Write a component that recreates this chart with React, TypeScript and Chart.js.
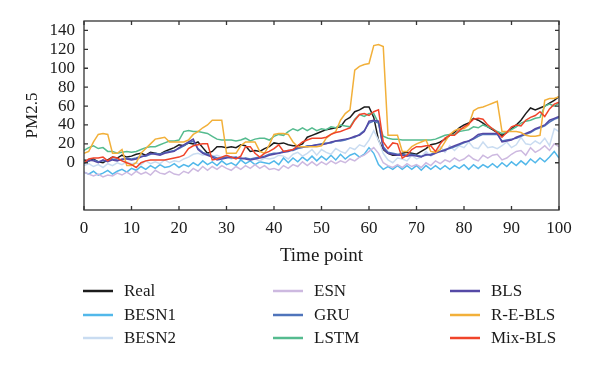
import React, { useEffect, useRef } from "react";
import { Chart, registerables } from "chart.js";

Chart.register(...registerables);

const FONT = "'Liberation Serif', 'DejaVu Serif', serif";

const timePoints = [
  0, 1, 2, 3, 4, 5, 6, 7, 8, 9, 10, 11, 12, 13, 14, 15, 16, 17, 18, 19,
  20, 21, 22, 23, 24, 25, 26, 27, 28, 29, 30, 31, 32, 33, 34, 35, 36, 37, 38, 39,
  40, 41, 42, 43, 44, 45, 46, 47, 48, 49, 50, 51, 52, 53, 54, 55, 56, 57, 58, 59,
  60, 61, 62, 63, 64, 65, 66, 67, 68, 69, 70, 71, 72, 73, 74, 75, 76, 77, 78, 79,
  80, 81, 82, 83, 84, 85, 86, 87, 88, 89, 90, 91, 92, 93, 94, 95, 96, 97, 98, 99, 100,
];
const xTicks = [0, 10, 20, 30, 40, 50, 60, 70, 80, 90, 100];
const yTicks = [0, 20, 40, 60, 80, 100, 120, 140];

const real = [
  3, 2, 4, 1, 0, 3, 6, 5, 8, 6,
  7, 9, 10, 8, 11, 10, 9, 12, 14, 16,
  19, 18, 21, 20, 22, 16, 10, 12, 17, 17,
  16, 17, 16, 19, 18, 12, 13, 12, 15, 17,
  21, 20, 21, 19, 18, 18, 20, 27, 29, 31,
  33, 35, 36, 37, 38, 45, 48, 54, 56, 59,
  59, 48, 24, 14, 10, 8, 8, 10, 11, 10,
  9, 12, 15, 19, 20, 22, 25, 29, 32, 37,
  40, 42, 47, 45, 42, 38, 35, 32, 29, 32,
  36, 40, 45, 52, 58, 56, 58, 60, 63, 66, 70,
];
const besn1 = [
  -10, -12, -9, -13, -11, -8, -12, -9, -7, -10,
  -6, -8, -4, -7, -3, -6, -2, -5, -4, -1,
  -5, -2, -4, 0, -3, 2, -2, 1, -3, 2,
  -2, 0, -3, 3, -1, 2, -2, 1, 0, -1,
  2, -2, 5, 0, 5, 1, 6, 2, 7, 2,
  7, 3, 8, 3, 9, 4, 8, 10, 6, 9,
  16, 10, -2, -7, -4, -7, -3, -7, -3, -7,
  -3, -8, -3, -7, -3, -7, -3, -7, -3, -6,
  -2, -7, -2, -6, -2, -5, -1, -5, 0, -4,
  1, -3, 2, -2, 4, 0, 5, 1, 6, 12, 5,
];
const besn2 = [
  -3, -1, -4, -2, -5, -1, -3, 0, -2, 1,
  -1, 0, -2, 2, -1, 1, -1, 3, 0, 2,
  1, 4, 6, 9, 10, 8, 9, 7, 8, 6,
  7, 4, 6, 4, 5, 3, 4, 2, 5, 4,
  5, 8, 7, 4, 9, 11, 7, 10, 14, 8,
  14, 11, 9, 15, 12, 10, 16, 14, 19, 17,
  24, 34, 24, 10, 3, 0, 5, 4, 2, 8,
  4, 6, 12, 7, 10, 17, 11, 18, 13, 18,
  16, 22, 16, 15, 22, 16, 17, 15, 18, 22,
  16, 19, 27, 20, 19, 23, 20, 26, 18, 36, 33,
];
const esn = [
  -10, -12, -14, -12, -15, -13, -14, -11, -13, -10,
  -13, -9, -12, -10, -13, -8, -11, -12, -9, -12,
  -13, -9, -11, -6, -9, -4, -8, -4, -7, -3,
  -6, -8, -4, -7, -3, -6, -2, -6, -3, -7,
  -6, -8, -3, -6, -2, -4, 1, -3, 1, -3,
  1, -2, 2, -1, 2, 0, 4, 2, 6, 8,
  12, 16, 10, 0, -3, -5, -2, -5, -1, -4,
  -2, -5, 0, -3, 2, -1, 3, 1, 5, 2,
  4, 8, 4, 2, 8, 5, 8, 9, 3, 5,
  9, 12, 13, 8, 16, 11, 14, 18, 13, 20, 17,
];
const gru = [
  0, 2, 3, 1, 2, 2, 4, 3, 3, 5,
  4, 5, 7, 7, 9, 10, 9, 11, 12, 13,
  15, 18, 21, 23, 15, 11, 9, 7, 5, 5,
  6, 5, 6, 4, 5, 4, 5, 6, 7, 9,
  10, 10, 12, 13, 13, 15, 16, 18, 18, 19,
  20, 21, 21, 23, 23, 24, 26, 27, 30, 34,
  42, 44, 42, 17, 11, 10, 9, 9, 8, 9,
  8, 7, 8, 9, 11, 12, 14, 15, 17, 19,
  21, 23, 25, 28, 30, 30, 30, 30, 23, 24,
  25, 26, 28, 30, 32, 35, 37, 39, 43, 46, 48,
];
const lstm = [
  13, 16, 18, 15, 16, 12, 12, 10, 11, 12,
  11, 12, 14, 16, 17, 17, 19, 21, 23, 23,
  24, 33, 34, 33, 33, 32, 31, 28, 25, 24,
  24, 24, 23, 24, 26, 23, 25, 26, 26, 24,
  28, 30, 29, 33, 36, 34, 37, 34, 37, 34,
  36, 35, 38, 37, 40, 39, 38, 46, 51, 49,
  52, 52, 42, 28, 26, 25, 25, 24, 24, 24,
  24, 24, 24, 24, 25, 27, 29, 30, 30, 33,
  34, 35, 38, 37, 40, 38, 36, 33, 31, 32,
  35, 38, 42, 44, 45, 47, 48, 60, 62, 60, 63,
];
const bls = [
  -1, 3, 2, 0, 3, 1, 3, 2, 4, 4,
  3, 4, 6, 8, 10, 9, 8, 10, 11, 12,
  16, 19, 22, 25, 14, 10, 8, 6, 3, 4,
  5, 6, 5, 5, 4, 3, 4, 5, 6, 8,
  9, 10, 11, 12, 14, 16, 17, 17, 18, 19,
  19, 20, 22, 23, 24, 25, 26, 28, 29, 33,
  44, 45, 44, 15, 10, 9, 8, 8, 7, 8,
  7, 6, 9, 8, 10, 12, 13, 16, 18, 20,
  22, 23, 26, 30, 31, 31, 31, 31, 22, 23,
  24, 27, 29, 31, 33, 36, 38, 40, 45, 47, 49,
];
const reBls = [
  10, 12, 22, 30, 31, 30, 10, 10, 14, -3,
  -3, 0, 10, 15, 20, 25, 26, 27, 22, 22,
  22, 22, 24, 30, 33, 37, 40, 45, 45, 45,
  10, 10, 10, 18, 22, 22, 22, 12, 10, 19,
  30, 31, 31, 30, 22, 17, 17, 17, 17, 17,
  18, 26, 30, 33, 45, 52, 56, 98, 102, 104,
  105, 124, 125, 123, 29, 29, 29, 12, 12, 17,
  20, 22, 24, 12, 11, 14, 22, 30, 34, 36,
  36, 40, 55, 58, 59, 61, 63, 65, 33, 33,
  33, 33, 32, 29, 28, 28, 29, 66, 68, 68, 70,
];
const mixBls = [
  0, 4, 5, 5, 6, 2, 6, 5, 2, 0,
  -2, -5, 0, 2, 3, 3, 3, 3, 4, 5,
  6, 8, 15, 18, 19, 20, 20, 3, 4, 6,
  8, 6, 4, 7, 17, 17, 10, 6, 10, 12,
  15, 19, 12, 13, 14, 18, 22, 24, 26, 26,
  26, 27, 30, 32, 33, 35, 37, 45, 51, 52,
  50, 54, 56, 22, 15, 21, 20, 5, 8, 14,
  17, 17, 18, 18, 12, 20, 26, 29, 29, 34,
  38, 41, 46, 47, 46, 40, 36, 32, 27, 32,
  38, 40, 39, 45, 48, 50, 54, 49, 57, 62, 64,
];

const seriesNames = ["Real", "BESN1", "BESN2", "ESN", "GRU", "LSTM", "BLS", "R-E-BLS", "Mix-BLS"];
const seriesValues = [real, besn1, besn2, esn, gru, lstm, bls, reBls, mixBls];
const seriesColors = [
  "#1c1c1c",
  "#52b8ea",
  "#c9dcf1",
  "#cdb9e0",
  "#4f74bb",
  "#55bb8f",
  "#5549a6",
  "#f2b03a",
  "#f0442a",
];

const framePlugin = {
  id: "frameTicks",
  afterDatasetsDraw(chart: any) {
    const { ctx, chartArea: a, scales } = chart;
    ctx.save();
    ctx.strokeStyle = "#333";
    ctx.lineWidth = 1.3;
    ctx.strokeRect(a.left, a.top, a.right - a.left, a.bottom - a.top);
    const tl = 4;
    ctx.beginPath();
    xTicks.forEach((v) => {
      const x = scales.x.getPixelForValue(v);
      ctx.moveTo(x, a.bottom);
      ctx.lineTo(x, a.bottom - tl);
      ctx.moveTo(x, a.top);
      ctx.lineTo(x, a.top + tl);
    });
    yTicks.forEach((v) => {
      const y = scales.y.getPixelForValue(v);
      ctx.moveTo(a.left, y);
      ctx.lineTo(a.left + tl, y);
      ctx.moveTo(a.right, y);
      ctx.lineTo(a.right - tl, y);
    });
    ctx.stroke();
    ctx.restore();
  },
};

const legendPlugin = {
  id: "gridLegend",
  afterDraw(chart: any) {
    const ctx = chart.ctx;
    const colX = [83, 273, 450];
    const rowY = [291, 315, 338];
    ctx.save();
    ctx.font = `17px ${FONT}`;
    ctx.textBaseline = "middle";
    chart.data.datasets.forEach((ds: any, i: number) => {
      const x = colX[Math.floor(i / 3)];
      const y = rowY[i % 3];
      ctx.strokeStyle = ds.borderColor;
      ctx.lineWidth = 2.5;
      ctx.beginPath();
      ctx.moveTo(x, y);
      ctx.lineTo(x + 30, y);
      ctx.stroke();
      ctx.fillStyle = "#1a1a1a";
      ctx.fillText(ds.label, x + 41, y + 1);
    });
    ctx.restore();
  },
};

export default function App() {
  const canvasRef = useRef<HTMLCanvasElement | null>(null);

  useEffect(() => {
    const canvas = canvasRef.current;
    if (!canvas) return;
    const datasets = seriesNames.map((name, i) => ({
      label: name,
      data: seriesValues[i].map((y, k) => ({ x: timePoints[k], y })),
      borderColor: seriesColors[i],
      backgroundColor: seriesColors[i],
      borderWidth: 1.5,
      pointRadius: 0,
      tension: 0,
      fill: false,
      order: seriesNames.length - i,
    }));
    const chart = new Chart(canvas, {
      type: "line",
      data: { datasets },
      options: {
        responsive: false,
        animation: false,
        devicePixelRatio: 1,
        layout: { padding: { left: 0, top: 21, right: 41, bottom: 95 } },
        plugins: {
          legend: { display: false },
          tooltip: { enabled: false },
        },
        scales: {
          x: {
            type: "linear",
            min: 0,
            max: 100,
            border: { display: false },
            grid: { display: false, drawTicks: false },
            ticks: {
              stepSize: 10,
              padding: 8,
              color: "#1a1a1a",
              font: { family: FONT, size: 17 },
              maxRotation: 0,
            },
            title: {
              display: true,
              text: "Time point",
              color: "#1a1a1a",
              font: { family: FONT, size: 19 },
              padding: { top: 0, bottom: 3 },
            },
            afterFit(scale: any) {
              scale.height = 60;
            },
          },
          y: {
            type: "linear",
            min: -50,
            max: 150,
            border: { display: false },
            grid: { display: false, drawTicks: false },
            ticks: {
              padding: 9,
              color: "#1a1a1a",
              font: { family: FONT, size: 17 },
            },
            afterBuildTicks(scale: any) {
              scale.ticks = yTicks.map((v) => ({ value: v }));
            },
            title: {
              display: true,
              text: "PM2.5",
              color: "#1a1a1a",
              font: { family: FONT, size: 17 },
              padding: { top: 22, bottom: 0 },
            },
            afterFit(scale: any) {
              scale.width = 84;
            },
          },
        },
      },
      plugins: [framePlugin, legendPlugin],
    });
    return () => chart.destroy();
  }, []);

  return (
    <div style={{ position: "fixed", left: 0, top: 0, width: 600, height: 365, background: "#fff" }}>
      <canvas ref={canvasRef} width={600} height={365} style={{ display: "block" }} />
    </div>
  );
}
